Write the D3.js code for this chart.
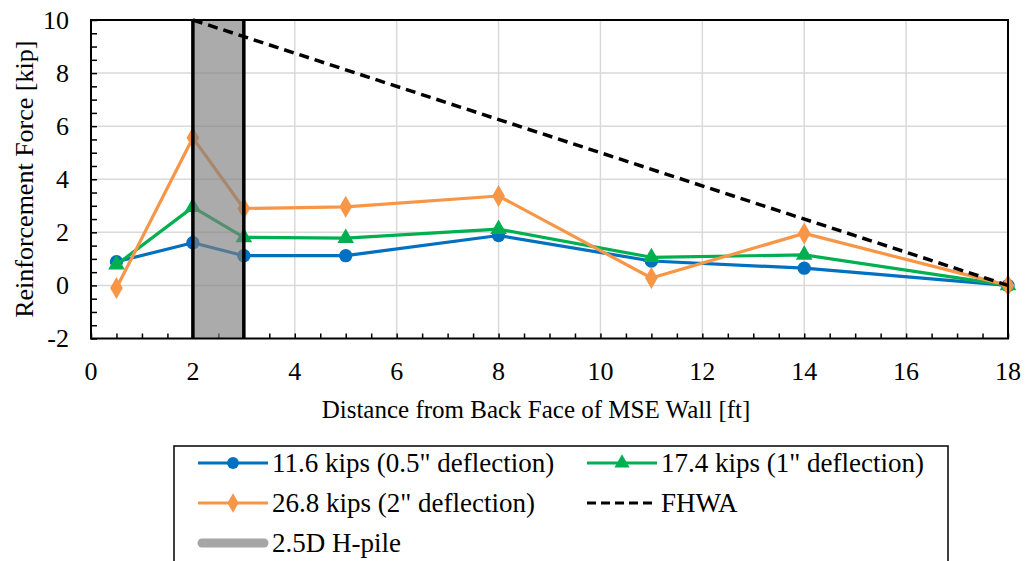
<!DOCTYPE html>
<html><head><meta charset="utf-8">
<script src="https://cdn.jsdelivr.net/npm/d3@7"></script>
<style>body{margin:0;background:#fff}svg{display:block}</style>
</head><body>
<svg id="c" width="1026" height="561"></svg>
<script>
const xValues = [0.5, 2, 3, 5, 8, 11, 14, 18];
const series116 = [0.89, 1.61, 1.12, 1.12, 1.88, 0.92, 0.65, 0];
const series174 = [0.78, 2.95, 1.81, 1.78, 2.12, 1.06, 1.15, 0];
const series268 = [-0.1, 5.56, 2.9, 2.96, 3.37, 0.28, 1.96, 0];
const fhwaX = [2, 18];
const fhwaY = [10, 0];
const pileRange = [2, 3];
const xTicks = [0, 2, 4, 6, 8, 10, 12, 14, 16, 18];
const yTicks = [-2, 0, 2, 4, 6, 8, 10];
const seriesNames = ['11.6 kips (0.5" deflection)', '17.4 kips (1" deflection)', '26.8 kips (2" deflection)', 'FHWA', '2.5D H-pile'];
const xTitle = 'Distance from Back Face of MSE Wall [ft]';
const yTitle = 'Reinforcement Force [kip]';

const FONT = 'Liberation Serif';
const FS = 26;
const svg = d3.select('#c');
const L = 91, R = 1008, T = 20, B = 338.5;
const x = d3.scaleLinear().domain([0, 18]).range([L, R]);
const y = d3.scaleLinear().domain([-2, 10]).range([B, T]);

// gridlines
const g = svg.append('g');
g.selectAll('.gx').data(xTicks.slice(1, -1)).join('line')
  .attr('x1', d => x(d)).attr('x2', d => x(d)).attr('y1', T).attr('y2', B)
  .attr('stroke', '#d9d9d9').attr('stroke-width', 1.5);
g.selectAll('.gy').data(yTicks.slice(1, -1)).join('line')
  .attr('x1', L).attr('x2', R).attr('y1', d => y(d)).attr('y2', d => y(d))
  .attr('stroke', '#d9d9d9').attr('stroke-width', 1.5);

// axes with minor ticks inside
const minorX = d3.range(0, 18.01, 0.5);
const minorY = d3.range(-2, 10.01, 0.5);
const xAxis = svg.append('g').attr('transform', `translate(0,${B})`)
  .call(d3.axisTop(x).tickValues(minorX).tickSize(5).tickFormat(''));
const yAxis = svg.append('g').attr('transform', `translate(${L},0)`)
  .call(d3.axisRight(y).tickValues(minorY).tickSize(6).tickFormat(''));
[xAxis, yAxis].forEach(a => {
  a.attr('font-family', FONT).attr('font-size', FS);
  a.select('.domain').remove();
  a.selectAll('text').remove();
  a.selectAll('line').attr('stroke', '#000').attr('stroke-width', 1.5);
});

// tick labels (positions from scales)
svg.append('g').selectAll('text').data(xTicks).join('text')
  .attr('font-family', FONT).attr('font-size', FS)
  .attr('x', d => x(d)).attr('y', 380).attr('text-anchor', 'middle').text(d => String(d));
svg.append('g').selectAll('text').data(yTicks).join('text')
  .attr('font-family', FONT).attr('font-size', FS)
  .attr('x', 69).attr('y', d => y(d) + 8.5).attr('text-anchor', 'end').text(d => String(d));

// series
const line = d3.line().x(d => x(d[0])).y(d => y(d[1]));
const defs = [
  {vals: series116, color: '#0070c0', sym: d3.symbolCircle, size: 140},
  {vals: series174, color: '#00b050', sym: d3.symbolTriangle, size: 120},
  {vals: series268, color: '#f79646', sym: d3.symbolDiamond, size: 140}
];
defs.forEach(s => {
  const pts = xValues.map((xv, i) => [xv, s.vals[i]]);
  svg.append('path').attr('d', line(pts)).attr('fill', 'none').attr('stroke', s.color).attr('stroke-width', 3.2).attr('stroke-linejoin', 'round');
  svg.selectAll(null).data(pts).join('path')
    .attr('transform', d => `translate(${x(d[0])},${y(d[1])})`)
    .attr('d', d3.symbol(s.sym, s.size)).attr('fill', s.color);
});

// H-pile band
svg.append('rect').attr('x', x(pileRange[0])).attr('y', T).attr('width', x(pileRange[1]) - x(pileRange[0])).attr('height', B - T)
  .attr('fill', '#7f7f7f').attr('fill-opacity', 0.66);
pileRange.forEach(v => svg.append('line').attr('x1', x(v)).attr('x2', x(v)).attr('y1', T).attr('y2', B).attr('stroke', '#000').attr('stroke-width', 3.5));

// FHWA
svg.append('path').attr('d', line(fhwaX.map((v, i) => [v, fhwaY[i]])))
  .attr('fill', 'none').attr('stroke', '#000').attr('stroke-width', 3.5).attr('stroke-dasharray', '10,6');

// frame
svg.append('rect').attr('x', L).attr('y', T).attr('width', R - L).attr('height', B - T).attr('fill', 'none').attr('stroke', '#000').attr('stroke-width', 2);

// titles
svg.append('text').attr('font-family', FONT).attr('font-size', 25).attr('x', 536).attr('y', 418).attr('text-anchor', 'middle').text(xTitle);
svg.append('text').attr('font-family', FONT).attr('font-size', FS).attr('transform', `translate(33,${(T + B) / 2}) rotate(-90)`).attr('text-anchor', 'middle').text(yTitle);

// legend
const lg = svg.append('g');
lg.append('rect').attr('x', 174).attr('y', 446).attr('width', 774).attr('height', 130).attr('fill', '#fff').attr('stroke', '#000').attr('stroke-width', 1.5);
const items = [
  {x: 198, y: 463, color: '#0070c0', sym: d3.symbolCircle, size: 110, name: seriesNames[0]},
  {x: 587, y: 463, color: '#00b050', sym: d3.symbolTriangle, size: 100, name: seriesNames[1]},
  {x: 198, y: 503, color: '#f79646', sym: d3.symbolDiamond, size: 110, name: seriesNames[2]},
  {x: 587, y: 503, color: '#000', dash: true, name: seriesNames[3]},
  {x: 198, y: 543, color: '#a6a6a6', band: true, name: seriesNames[4]}
];
items.forEach(it => {
  const x0 = it.x, x1 = it.x + 70;
  if (it.band) {
    lg.append('line').attr('x1', x0 + 4).attr('x2', x1 - 4).attr('y1', it.y).attr('y2', it.y).attr('stroke', it.color).attr('stroke-width', 9).attr('stroke-linecap', 'round');
  } else if (it.dash) {
    lg.append('line').attr('x1', x0).attr('x2', x1).attr('y1', it.y).attr('y2', it.y).attr('stroke', '#000').attr('stroke-width', 3.2).attr('stroke-dasharray', '9,5');
  } else {
    lg.append('line').attr('x1', x0).attr('x2', x1).attr('y1', it.y).attr('y2', it.y).attr('stroke', it.color).attr('stroke-width', 3.2);
    lg.append('path').attr('transform', `translate(${(x0 + x1) / 2},${it.y})`).attr('d', d3.symbol(it.sym, it.size)).attr('fill', it.color);
  }
  lg.append('text').attr('font-family', FONT).attr('font-size', 27).attr('x', x1 + 4).attr('y', it.y + 9).text(it.name);
});
</script>
</body></html>
